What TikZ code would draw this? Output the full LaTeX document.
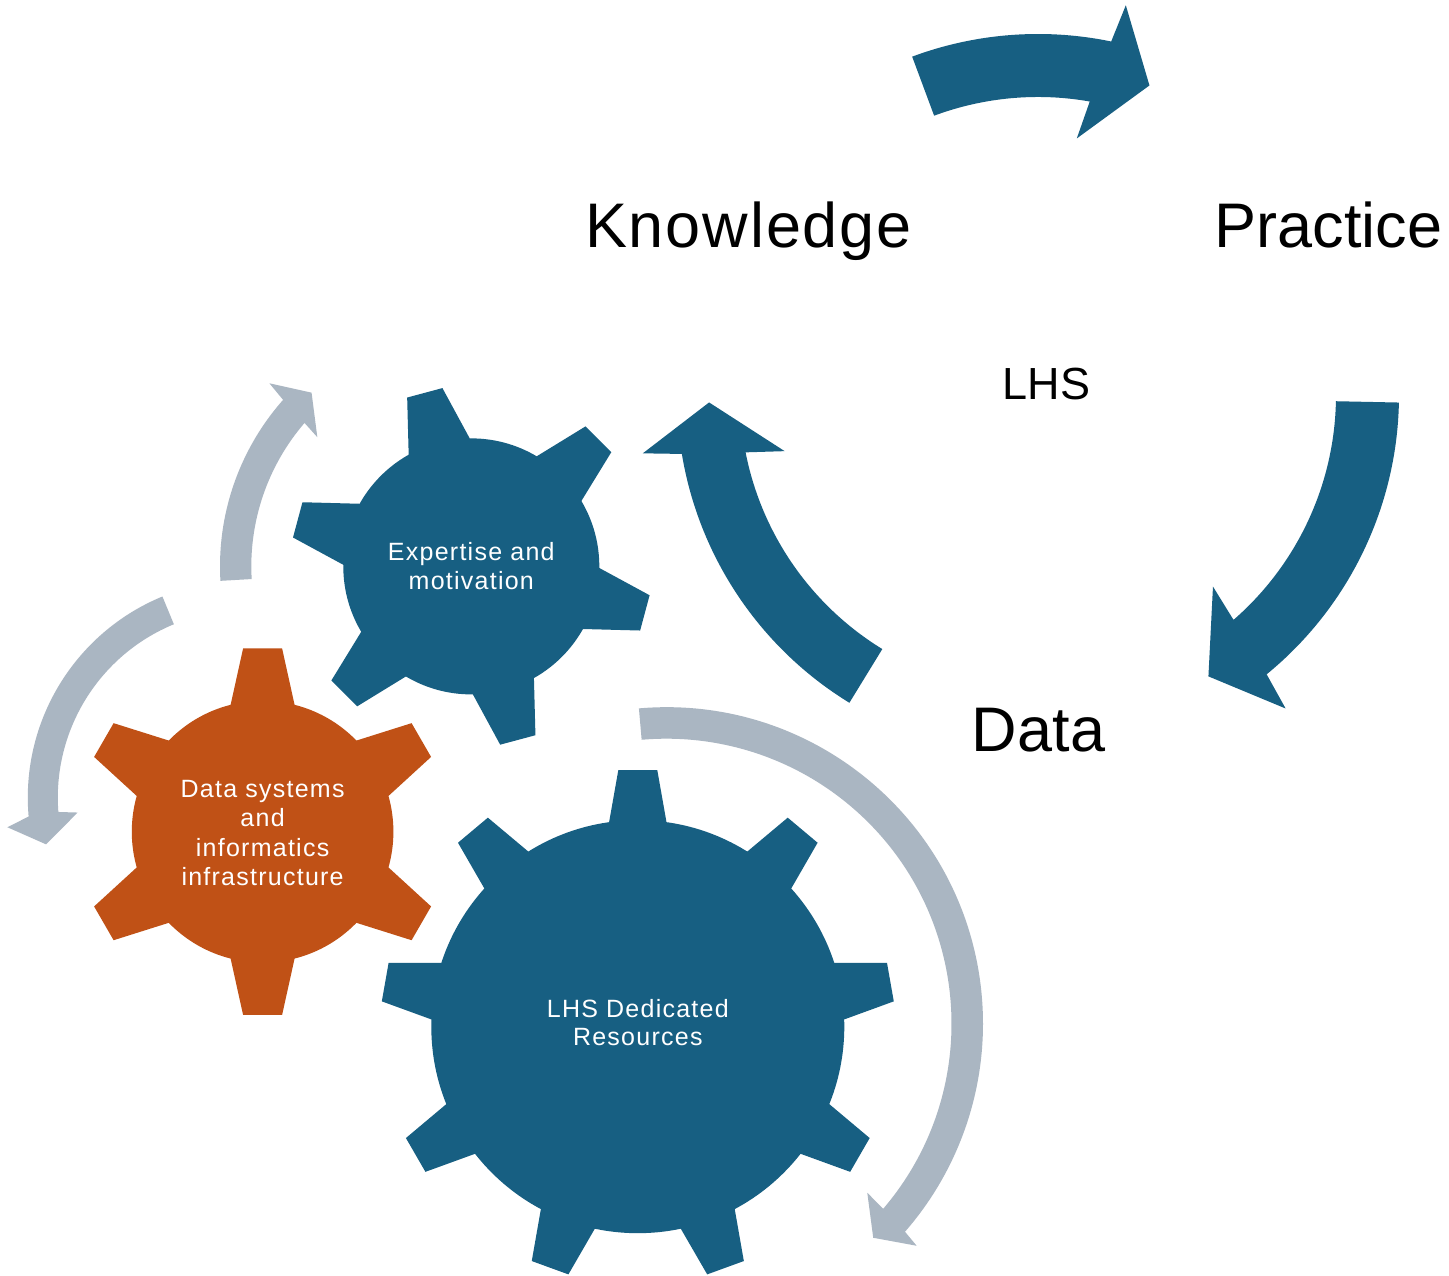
\documentclass[tikz,border=0pt]{standalone}
\usepackage{fontspec}
\setmainfont{Liberation Sans}
\newfontfamily\gearfont[LetterSpace=5]{Liberation Sans}
\newfontfamily\widefont[LetterSpace=3]{Liberation Sans}
\definecolor{lhsteal}{RGB}{23,95,130}
\definecolor{lhsorange}{RGB}{192,81,22}
\definecolor{lhsgrey}{RGB}{170,182,194}
% #1 colour, #2 centre, #3 teeth, #4 first tooth angle, #5 body radius,
% #6 tip radius, #7 base half width, #8 tip half width
\newcommand\drawgear[8]{%
 \begin{scope}[shift={#2}]
  \fill[#1] (0,0) circle[radius=#5];
  \pgfmathsetmacro\gdb{asin(#7/#5)}%
  \pgfmathsetmacro\gdt{atan(#8/#6)}%
  \pgfmathsetmacro\grc{#6/cos(\gdt)}%
  \pgfmathsetmacro\gstep{360/#3}%
  \foreach \k in {1,...,#3}{%
    \pgfmathsetmacro\gth{#4+(\k-1)*\gstep}%
    \fill[#1] (0,0) -- ({\gth-\gdb}:#5) -- ({\gth-\gdt}:\grc) -- ({\gth+\gdt}:\grc) -- ({\gth+\gdb}:#5) -- cycle;
  }
 \end{scope}}
\tikzset{
  biglabel/.style={font=\fontsize{63}{70}\selectfont, inner sep=0pt, text=black, anchor=base},
  widelabel/.style={biglabel, font=\widefont\fontsize{63}{70}\selectfont},
  midlabel/.style={font=\fontsize{45}{50}\selectfont, inner sep=0pt, text=black, anchor=base},
  gearlabel/.style={text=white, align=center, inner sep=0pt, font=\gearfont\fontsize{25}{28.5}\selectfont},
  gearlabelwide/.style={gearlabel, font=\gearfont\fontsize{25}{29.5}\selectfont},
  cyclearrow/.style={fill=lhsteal},
  gearflow/.style={fill=lhsgrey}
}
\begin{document}
\begin{tikzpicture}[x=1pt,y=1pt]
\fill[white] (0,0) rectangle (1449,1276);
\useasboundingbox (0,0) rectangle (1449,1276);

% big cycle arrows (centre of the cycle)
\begin{scope}[shift={(1038,881)}]
  \path[cyclearrow] (110.4:361) arc[start angle=110.4,end angle=78.3,radius=361]
     -- (77.3:399.5) -- (70.2:329) -- (81.4:259.5) -- (80.0:298)
     arc[start angle=80,end angle=110.4,radius=298] -- cycle;
  \path[cyclearrow] (-1.2:361) arc[start angle=-1.2,end angle=-50.7,radius=361]
     -- (-51.7:399.5) -- (-58.8:329) -- (-47.6:259.5) -- (-49:298)
     arc[start angle=-49,end angle=-1.2,radius=298] -- cycle;
  \path[cyclearrow] (238.5:361) arc[start angle=238.5,end angle=189.4,radius=361]
     -- (188.4:399.5) -- (181.3:329) -- (192.5:259.5) -- (191.1:298)
     arc[start angle=191.1,end angle=238.5,radius=298] -- cycle;
\end{scope}

% grey arrows around the gears
\begin{scope}[shift={(471.3,709.6)}]
  \path[gearflow] (183.3:251.3) arc[start angle=183.3,end angle=138.5,radius=251.3]
     -- (137.8:272.6) -- (132.6:236) -- (140:201) -- (139.3:220)
     arc[start angle=139.3,end angle=183.3,radius=220] -- cycle;
\end{scope}
\begin{scope}[shift={(245.3,478.4)}]
  \path[gearflow] (112.4:217.5) arc[start angle=112.4,end angle=185,radius=217.5]
     -- (187.1:239.8) -- (193.2:204.7) -- (185.1:168.3) -- (184.4:187.5)
     arc[start angle=184.4,end angle=112.4,radius=187.5] -- cycle;
\end{scope}
\begin{scope}[shift={(666.5,252.3)}]
  \path[gearflow] (95:316.5) arc[start angle=95,end angle=-41.1,radius=316.5]
     -- (-41.6:334.5) -- (-46:297.6) -- (-40.1:262.5) -- (-40.5:285)
     arc[start angle=-40.5,end angle=95,radius=285] -- cycle;
\end{scope}

% gears
\drawgear{lhsteal}{(471.3,709.6)}{6}{105}{128}{179.7}{31.6}{18.25}
\drawgear{lhsorange}{(262.6,444.3)}{6}{90}{130.8}{183.3}{32}{19.5}
\drawgear{lhsteal}{(637.8,249.3)}{9}{90}{206.5}{256.5}{28.7}{19.5}

% gear labels
\node[gearlabel] (expertise) at (471.3,710) {Expertise and\\motivation};
\node[gearlabelwide] (datasys) at (262.6,443) {Data systems\\and\\informatics\\infrastructure};
\node[gearlabel] (resources) at (637.8,253.3) {LHS Dedicated\\Resources};

% cycle labels
\node[widelabel] (knowledge) at (748.5,1028) {Knowledge};
\node[biglabel] (practice) at (1328.5,1028) {Practice};
\node[midlabel] (lhs) at (1046.5,876) {LHS};
\node[biglabel] (data) at (1038.5,524) {Data};
\end{tikzpicture}
\end{document}
